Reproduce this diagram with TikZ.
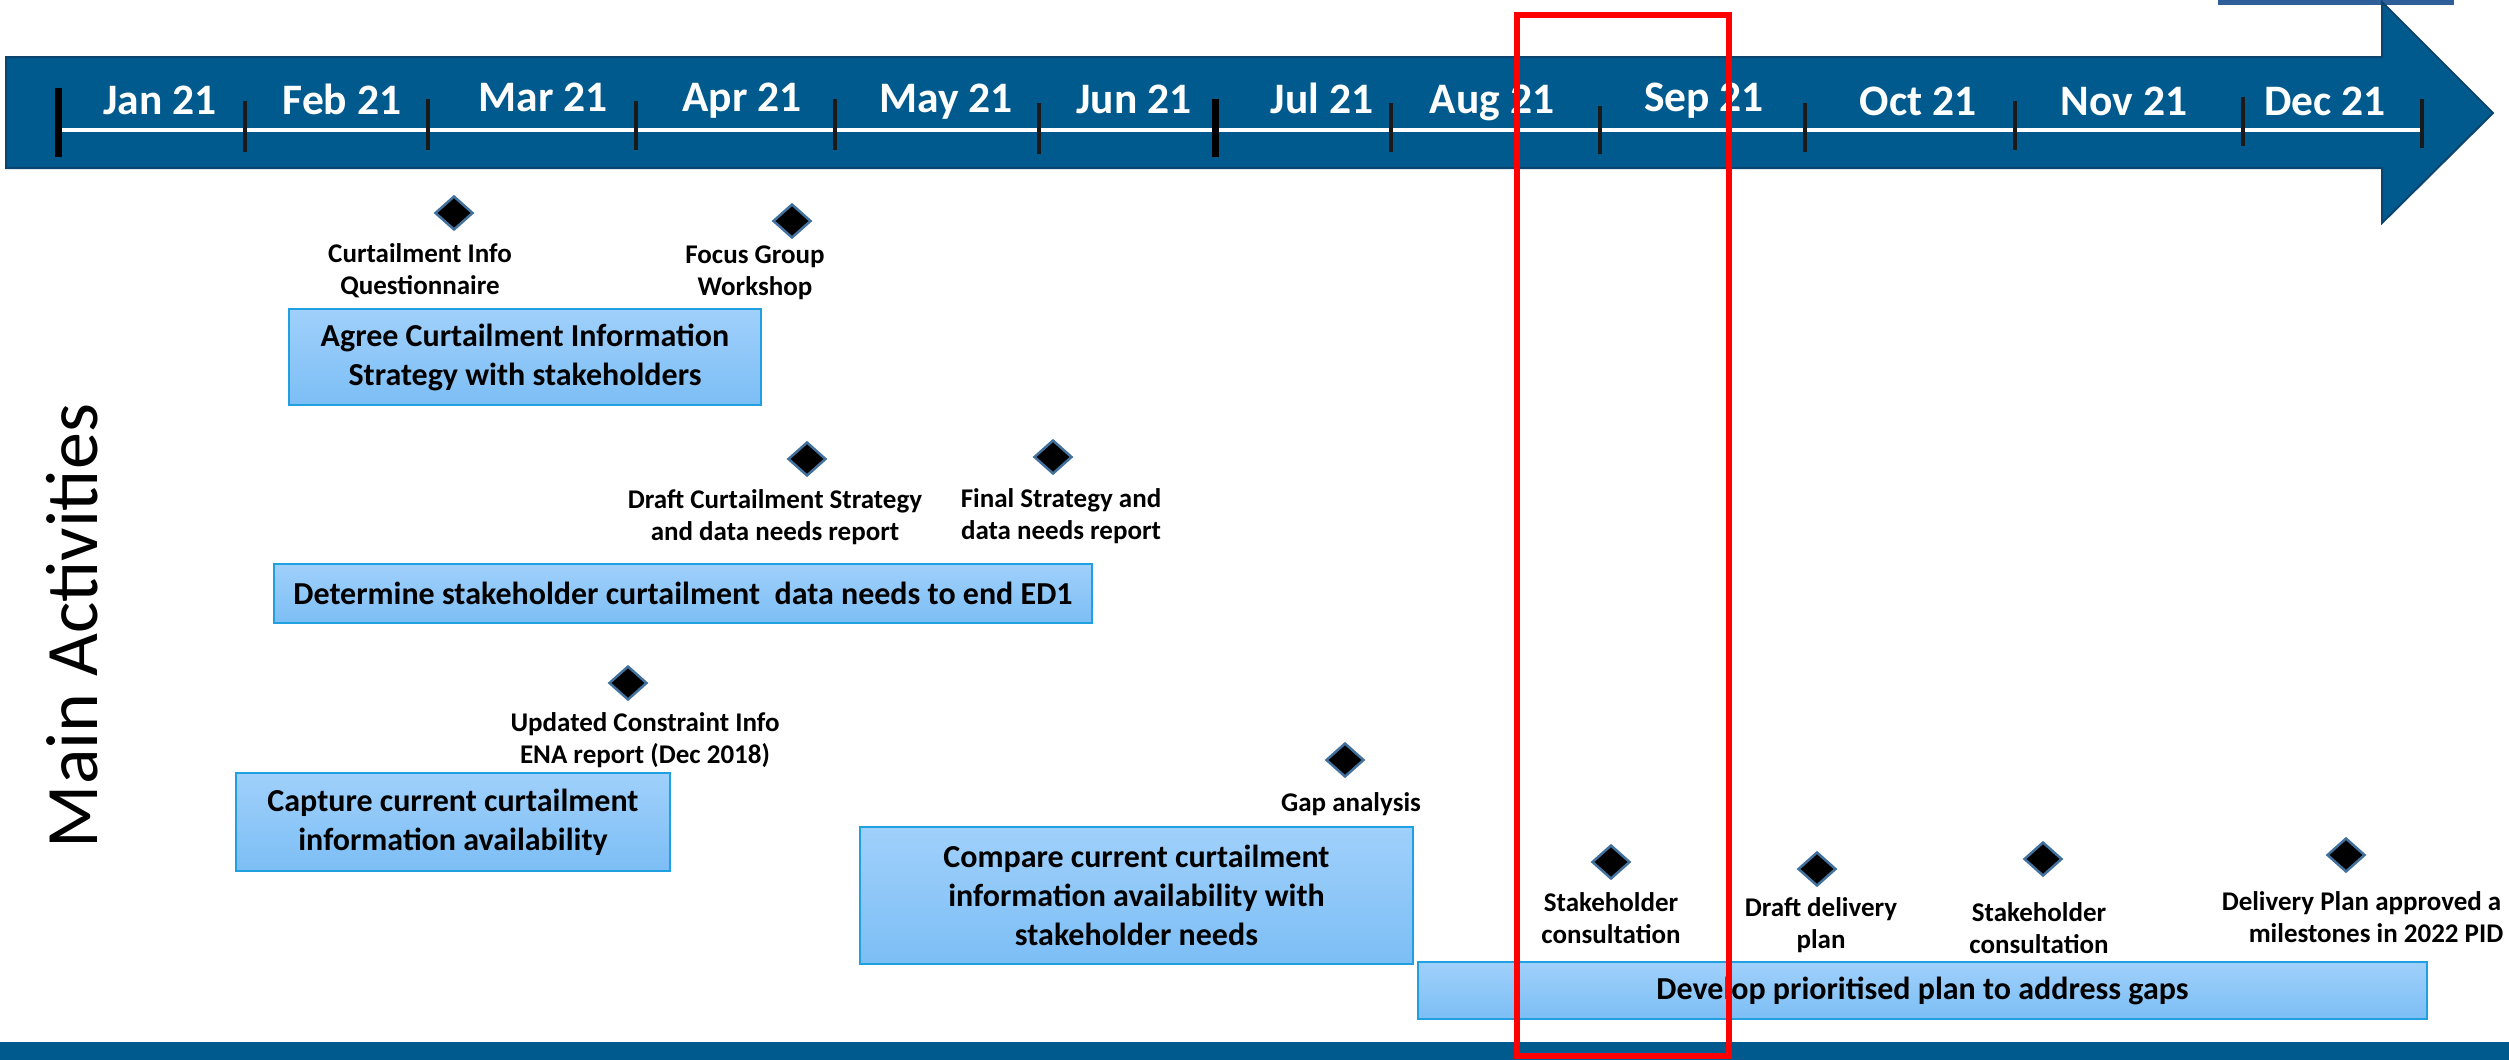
\documentclass[tikz,border=0pt]{standalone}
\usepackage{fontspec}
\setmainfont{Carlito}
\usetikzlibrary{shapes.geometric}
\definecolor{barblue}{HTML}{005A8E}
\definecolor{barborder}{HTML}{0C4470}
\definecolor{topline}{HTML}{2F5F98}
\definecolor{tickc}{HTML}{1A1A1A}
\definecolor{boxtop}{HTML}{A0D0FB}
\definecolor{boxbot}{HTML}{7CBEF5}
\definecolor{boxborder}{HTML}{20A0E0}
\definecolor{msborder}{HTML}{41719C}
\begin{document}
\begin{tikzpicture}[x=1pt,y=-1pt,
  month/.style={text=white, font=\fontsize{43.5}{50}\selectfont\bfseries, anchor=base, inner sep=0pt},
  tickthin/.style={draw=tickc, line width=3.5pt},
  tickthick/.style={draw=black, line width=7pt},
  ms/.style={diamond, draw=msborder, fill=black, line width=2.5pt, minimum width=38pt, minimum height=34pt, inner sep=0pt},
  mlabel/.style={font=\fontsize{27}{31.5}\selectfont\bfseries, align=center, anchor=base, inner sep=0pt},
  task/.style={draw=boxborder, line width=2pt, top color=boxtop, bottom color=boxbot, font=\fontsize{32}{39}\selectfont\bfseries, align=center, inner sep=0pt, anchor=center},
]
\useasboundingbox (0,0) rectangle (2509,1060);
% timeline arrow
\fill[topline] (2218,0) rectangle (2454,5);
\draw[fill=barblue, draw=barborder, line width=2pt] (6,57) -- (2382,57) -- (2382,2) -- (2493,113) -- (2382,223) -- (2382,168) -- (6,168) -- cycle;
\draw[white, line width=4pt] (58,130) -- (2422,130);
% ticks
\draw[tickthick] (58,88) -- (58,157);
\draw[tickthin] (245,101) -- (245,152);
\draw[tickthin] (428,99) -- (428,150);
\draw[tickthin] (636,101) -- (636,150);
\draw[tickthin] (835,99) -- (835,150);
\draw[tickthin] (1039,103) -- (1039,154);
\draw[tickthick] (1215,99) -- (1215,157);
\draw[tickthin] (1391,103) -- (1391,152);
\draw[tickthin] (1600,106) -- (1600,154);
\draw[tickthin] (1805,103) -- (1805,152);
\draw[tickthin] (2015,101) -- (2015,150);
\draw[tickthin] (2243,97) -- (2243,146);
\draw[tickthin] (2422,99) -- (2422,148);
% months
\node[month] (jan) at (160,114) {Jan 21};
\node[month] (feb) at (342,114) {Feb 21};
\node[month] (mar) at (543,111) {Mar 21};
\node[month] (apr) at (742,111) {Apr 21};
\node[month] (may) at (946,112) {May 21};
\node[month] (jun) at (1134,113) {Jun 21};
\node[month] (jul) at (1322,113) {Jul 21};
\node[month] (aug) at (1492,113) {Aug 21};
\node[month] (sep) at (1704,111) {Sep 21};
\node[month] (oct) at (1918,115) {Oct 21};
\node[month] (nov) at (2124,115) {Nov 21};
\node[month] (dec) at (2325,115) {Dec 21};
% side title
\node[rotate=90, anchor=base, inner sep=0pt, font=\fontsize{74}{80}\selectfont] (title) at (97,626) {Main Activities};
% task boxes
\node[task, minimum width=472pt, minimum height=96pt] (t1) at (525,357) {Agree Curtailment Information\\Strategy with stakeholders};
\node[task, minimum width=818pt, minimum height=59pt] (t2) at (683,593.5) {Determine stakeholder curtailment\ \ data needs to end ED1};
\node[task, minimum width=434pt, minimum height=98pt] (t3) at (453,822) {Capture current curtailment\\information availability};
\node[task, minimum width=553pt, minimum height=137pt] (t4) at (1136.5,895.5) {Compare current curtailment\\information availability with\\stakeholder needs};
\node[task, minimum width=1009pt, minimum height=57pt] (t5) at (1922.5,990.5) {Develop prioritised plan to address gaps};
% milestones
\node[ms] (d1) at (454,213) {};
\node[ms] (d2) at (792,221) {};
\node[ms] (d3) at (807,459) {};
\node[ms] (d4) at (1053,457) {};
\node[ms] (d5) at (628,683) {};
\node[ms] (d6) at (1345,760) {};
\node[ms] (d7) at (1611,862) {};
\node[ms] (d8) at (1817,869) {};
\node[ms] (d9) at (2043,859) {};
\node[ms] (d10) at (2346,855) {};
\node[mlabel] (l1) at (420,294) {Curtailment Info\\Questionnaire};
\node[mlabel] (l2) at (755,295) {Focus Group\\Workshop};
\node[mlabel] (l3) at (775,540) {Draft Curtailment Strategy\\and data needs report};
\node[mlabel] (l4) at (1061,539) {Final Strategy and\\data needs report};
\node[mlabel] (l5) at (645,763) {Updated Constraint Info\\ENA report (Dec 2018)};
\node[mlabel] (l6) at (1351,811) {Gap analysis};
\node[mlabel] (l7) at (1611,943) {Stakeholder\\consultation};
\node[mlabel] (l8) at (1821,948) {Draft delivery\\plan};
\node[mlabel] (l9) at (2039,953) {Stakeholder\\consultation};
\node[mlabel] (l10) at (2376,942) {Delivery Plan approved a\phantom{nd}\\milestones in 2022 PID};
% bottom band
\fill[barblue] (0,1042) rectangle (2509,1060);
% highlight
\draw[red, line width=6pt] (1517,15) rectangle (1729,1056);
\end{tikzpicture}
\end{document}
